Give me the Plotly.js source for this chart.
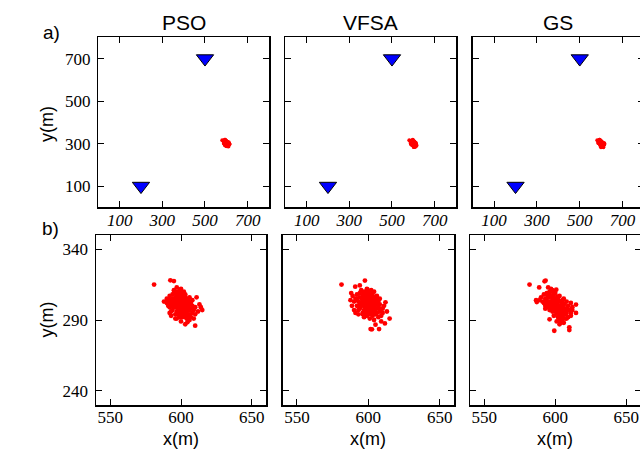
<!DOCTYPE html>
<html><head><meta charset="utf-8">
<script src="https://cdn.plot.ly/plotly-3.0.1.min.js"></script>
<style>html,body{margin:0;padding:0;overflow:hidden;background:#fff;}#wrap{width:640px;height:450px;overflow:hidden;}#chart{width:660px;height:450px;}</style>
</head><body><div id="wrap"><div id="chart"></div></div>
<script>
// ---- data ----
const methods = ['PSO', 'VFSA', 'GS'];
const stationX = [200, 500];
const stationY = [100, 700];
const topTicks = [100, 300, 500, 700];
const bottomXTicks = [550, 600, 650];
const bottomYTicks = [240, 290, 340];

const psoX = [581,592.5,595,597,588,590,611,613,615,609,606,603,604.5,600,610,596,592,612,614,591,
 598,601,603,596,594,599,602,605,607,604,600,597,595,593,598,601,604,606,608,609,606,603,599,596,594,592,591,594,597,600,603,592,595,599,602,600,597,604,601,598,605,593,607,596,600,602,605,608,610,606,599,595,590,593,597,601,604,607,610,603,598,601,596,594,600,602,599,603,597,605,608,606,592,597,602,600,595,
 599.5,600.5,601.5,598.5,597.5,602.5,603.5,596.5,600.5,599.5,601.5,598.5,602.5,597.5,604.5,595.5,603.5,600.5,598.5,601.5,599.5,602.5,596.5,604.5,597.5,600.5,603.5,598.5,605.5,594.5];
const psoY = [315,318,317.5,313,303,305,306,301,297,291,290,287,288.5,289,286,291,295,296,299,300,
 301,299,297,303,305,306,304,301,298,295,294,296,299,302,308,307,305,303,300,297,294,292,292,294,297,299,304,308,310,309,308,307,302,303,301,297,299,299,295,298,297,296,302,306,305,296,293,295,299,306,311,309,302,293,291,292,291,292,294,302,295,303,300,301,300,298,297,306,304,304,304,297,304,307,310,312,311,
 300.5,301.5,298.5,303.5,301.5,300.5,299.5,302.5,296.5,305.5,306.5,306.5,302.5,298.5,297.5,304.5,294.5,307.5,293.5,293.5,295.5,303.5,308.5,302.5,294.5,303.5,300.5,309.5,300.5,299.5];

const vfsaX = [581.2,597.6,590.8,594,599.3,588,589,587.5,588.5,590,601.6,602.5,607.5,605,611.6,614.9,613,611,612,609,596,591,
 598,601,603,596,594,599,602,605,607,604,600,597,595,593,598,601,604,606,608,609,606,603,599,596,594,592,591,594,597,600,603,592,595,599,602,600,597,604,601,598,605,593,607,596,600,602,605,608,610,606,599,595,590,593,597,601,604,607,610,603,598,601,596,594,600,602,599,603,597,605,608,606,592,597,602,609,604,
 599.5,600.5,601.5,598.5,597.5,602.5,603.5,596.5,600.5,599.5,601.5,598.5,602.5,597.5,604.5,595.5,603.5,600.5,598.5,601.5,599.5,602.5,596.5,604.5,597.5,600.5,603.5,598.5,605.5,594.5];
const vfsaY = [315,317.8,313.5,314.4,311.6,309,307,304,300,297,283.6,283.4,283.6,286.7,287.6,291,296,300,302.5,289,294,295,
 302,300,298,304,306,307,305,302,299,296,295,297,300,303,309,308,306,304,301,298,295,293,293,295,298,300,305,309,310,310,309,308,302,304,302,298,300,300,296,299,298,297,303,307,306,297,294,296,298,307,312,311,303,294,292,291,290,292,295,303,296,304,301,302,301,299,298,307,305,305,305,298,305,308,311,293,310,
 301,302,299,304,302,301,300,303,297,306,307,307,303,299,298,305,295,308,294,294,296,304,309,303,295,304,301,310,301,300];

const gsX = [581.9,593.2,592.5,588.7,600.7,599.3,609.9,609.9,614.6,614.6,587,586.5,612,611,606,603,596,
 590,592,594,596,593,595,597,599,591,594,596,598,600,602,597,599,601,603,605,595,600,602,604,606,598,601,603,605,607,609,599,602,604,606,608,610,603,605,607,609,601,604,596,593,592,598,597,600,603,606,608,611,604,601,597,595,600,602,606,608,611,612,605,593,589,595,598,601,599,603,605,607,
 597.5,599.5,601.5,603.5,605.5,598.5,600.5,602.5,604.5,596.5,594.5,593.5,595.5,597.5,599.5,601.5,603.5,605.5,607.5,600.5,602.5,604.5,598.5,596.5,606.5,608.5,599.5,601.5,603.5,595.5];
const gsY = [315,317.8,317.3,313,311.4,282.4,284.8,282.9,300.9,295,302.7,304,299,293,288,287,290.5,
 306,308,309,310,305,306,307,308,303,302,303,304,305,306,300,301,302,303,304,299,298,299,300,301,296,295,296,297,298,300,293,292,293,294,295,297,290,291,291,292,289,288,297,300,302,311,312,309,307,305,303,302,303,299,303,303,296,294,297,291,295,297,289,298,304,313,306,304,299,298,295,294,
 302.5,301.5,300.5,299.5,298.5,305.5,304.5,303.5,302.5,306.5,307.5,304.5,301.5,298.5,296.5,297.5,294.5,293.5,296.5,300.5,296.5,297.5,309.5,300.5,301.5,298.5,303.5,306.5,292.5,308.5];

const clusters = [[psoX, psoY], [vfsaX, vfsaY], [gsX, gsY]];

// ---- layout geometry (pixels of a 660x450 paper) ----
const W = 660, H = 450;
const topDom = [[98.3, 269], [285.3, 456], [472.7, 644]];
const botDom = [[96, 266], [282.7, 454], [470, 640.5]];
const topY = [37.3, 207.3], botY = [235, 405];
const fx = p => p / W, fy = p => 1 - p / H;

const serif = 'Liberation Serif';
const sans = 'Liberation Sans';
const tickFont = {family: serif, size: 17, color: '#000'};
function axis(dom, range, ticks, showLabels, italic, standoff) {
  return {
    domain: dom, range: range, tickmode: 'array', tickvals: ticks,
    showticklabels: showLabels, ticks: 'inside', ticklen: 6, tickwidth: 1, tickcolor: '#000',
    showline: true, linewidth: 1.5, linecolor: '#000', mirror: 'ticks',
    showgrid: false, zeroline: false, fixedrange: true,
    tickfont: Object.assign({}, tickFont, italic ? {style: 'italic'} : {}),
    ticklabelstandoff: standoff
  };
}

const data = [];
const layout = {
  width: W, height: H, margin: {l: 0, r: 0, t: 0, b: 0},
  paper_bgcolor: '#fff', plot_bgcolor: '#fff', showlegend: false, annotations: []
};

for (let i = 0; i < 3; i++) {
  const nt = i + 1, nb = i + 4;
  const xt = 'x' + nt, yt = 'y' + nt, xb = 'x' + nb, yb = 'y' + nb;
  layout['xaxis' + nt] = Object.assign(axis([fx(topDom[i][0]), fx(topDom[i][1])], [0, 800], topTicks, true, true, -3), {anchor: yt});
  layout['yaxis' + nt] = Object.assign(axis([fy(topY[1]), fy(topY[0])], [0, 800], topTicks, i === 0, false, 3), {anchor: xt});
  layout['xaxis' + nb] = Object.assign(axis([fx(botDom[i][0]), fx(botDom[i][1])], [540, 660], bottomXTicks, true, false, -4), {anchor: yb});
  layout['yaxis' + nb] = Object.assign(axis([fy(botY[1]), fy(botY[0])], [230, 350], bottomYTicks, i === 0, false, 3), {anchor: xb});

  const [cx, cy] = clusters[i];
  data.push({type: 'scatter', mode: 'markers', x: stationX, y: stationY, xaxis: xt, yaxis: yt,
    marker: {symbol: 'triangle-down', size: 15, color: '#0000ff', line: {color: '#000', width: 1}}, hoverinfo: 'skip'});
  data.push({type: 'scatter', mode: 'markers', x: cx, y: cy, xaxis: xt, yaxis: yt,
    marker: {symbol: 'circle', size: 4, color: '#ff0000'}, hoverinfo: 'skip'});
  data.push({type: 'scatter', mode: 'markers', x: cx, y: cy, xaxis: xb, yaxis: yb,
    marker: {symbol: 'circle', size: 4.8, color: '#ff0000'}, hoverinfo: 'skip'});

  layout.annotations.push({text: methods[i], xref: 'paper', yref: 'paper',
    x: fx((topDom[i][0] + topDom[i][1]) / 2), y: fy(22.5), xanchor: 'center', yanchor: 'middle', showarrow: false,
    font: {family: sans, size: 21, color: '#000'}});
  layout.annotations.push({text: 'x(m)', xref: 'paper', yref: 'paper',
    x: fx((botDom[i][0] + botDom[i][1]) / 2), y: fy(439), xanchor: 'center', yanchor: 'middle', showarrow: false,
    font: {family: sans, size: 18, color: '#000'}});
}
const labFont = {family: sans, size: 19, color: '#000'};
layout.annotations.push({text: 'a)', xref: 'paper', yref: 'paper', x: fx(51), y: fy(32), xanchor: 'center', yanchor: 'middle', showarrow: false, font: labFont});
layout.annotations.push({text: 'b)', xref: 'paper', yref: 'paper', x: fx(50), y: fy(229), xanchor: 'center', yanchor: 'middle', showarrow: false, font: labFont});
const ymFont = {family: sans, size: 18, color: '#000'};
layout.annotations.push({text: 'y(m)', xref: 'paper', yref: 'paper', x: fx(47), y: fy(124), xanchor: 'center', yanchor: 'middle', textangle: -90, showarrow: false, font: ymFont});
layout.annotations.push({text: 'y(m)', xref: 'paper', yref: 'paper', x: fx(46.5), y: fy(320), xanchor: 'center', yanchor: 'middle', textangle: -90, showarrow: false, font: ymFont});

Plotly.newPlot('chart', data, layout, {displayModeBar: false, staticPlot: true});
</script></body></html>
